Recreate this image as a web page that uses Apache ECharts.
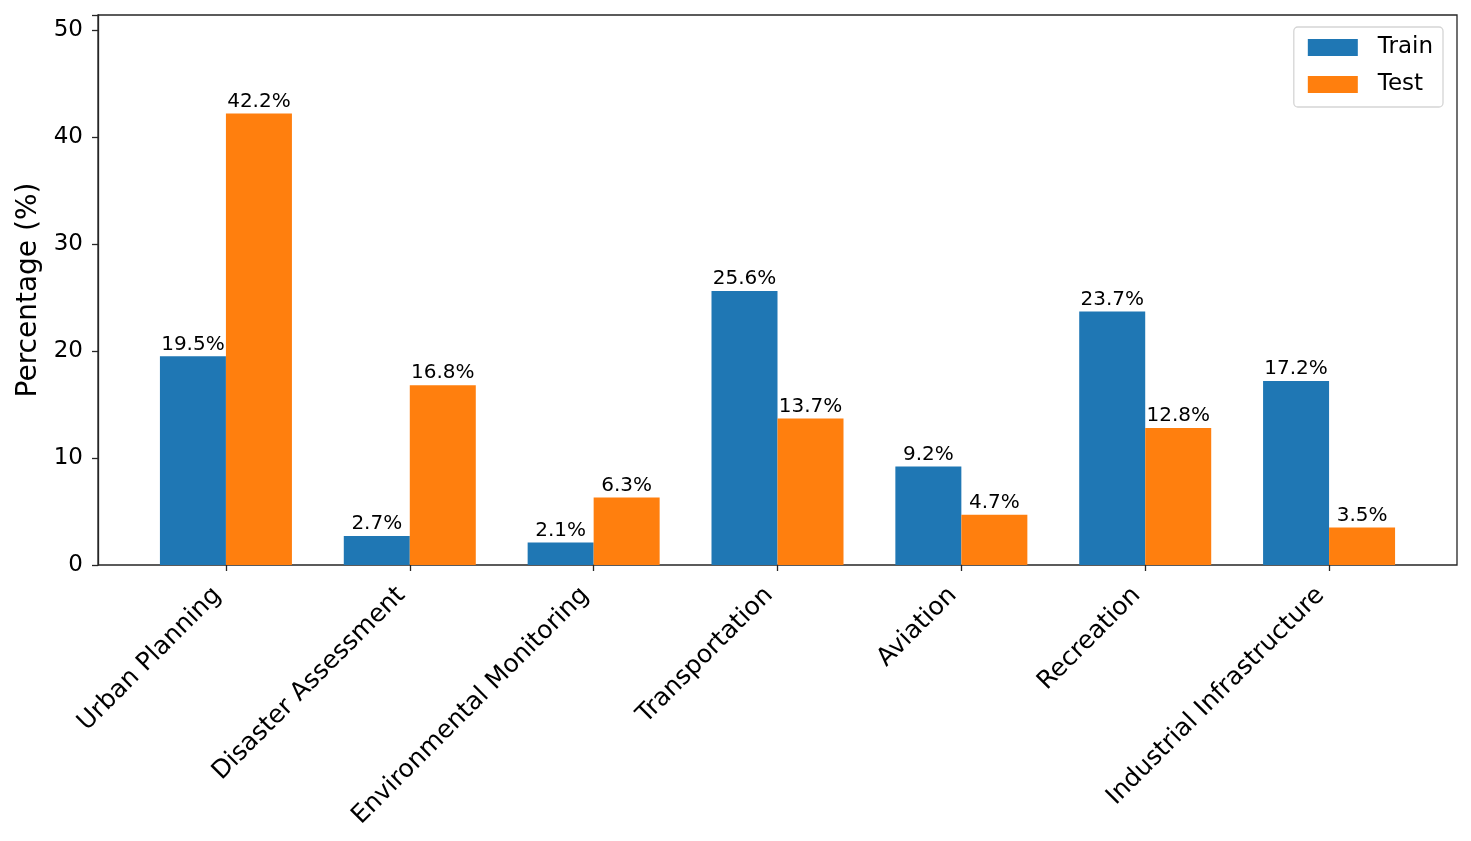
<!DOCTYPE html>
<html>
<head>
<meta charset="utf-8">
<script src="https://cdn.jsdelivr.net/npm/echarts@6/dist/echarts.min.js"></script>
<style>html,body{margin:0;padding:0;background:#fff;}#c{width:1471px;height:841px;}</style>
</head>
<body>
<div id="c"></div>
<script>
const categories = ["Urban Planning", "Disaster Assessment", "Environmental Monitoring", "Transportation", "Aviation", "Recreation", "Industrial Infrastructure"];
const trainValues = [19.5, 2.7, 2.1, 25.6, 9.2, 23.7, 17.2];
const testValues = [42.2, 16.8, 6.3, 13.7, 4.7, 12.8, 3.5];
const yTicks = [0, 10, 20, 30, 40, 50];

const FONT = 'DejaVu Sans';
const chart = echarts.init(document.getElementById('c'));
chart.setOption({
  animation: false,
  textStyle: { fontFamily: FONT },
  legend: {
    right: 28, top: 27, orient: 'vertical',
    itemWidth: 50, itemHeight: 17, itemGap: 14,
    padding: [9, 10, 11, 14],
    borderColor: '#d5d5d5', borderWidth: 1.3, borderRadius: 4,
    textStyle: { fontSize: 23, lineHeight: 23, color: '#000', fontFamily: FONT, padding: [0, 0, 0, 15] },
    data: [{ name: 'Train', icon: 'rect' }, { name: 'Test', icon: 'rect' }]
  },
  grid: [
    { left: 98, right: 14, top: 15, bottom: 276, show: true, borderColor: '#262626', borderWidth: 1.3, backgroundColor: 'transparent' },
    { left: 134, width: 1287, top: 15, bottom: 276 }
  ],
  xAxis: [
    { gridIndex: 0, type: 'value', min: 0, max: 1, show: false },
    { gridIndex: 1, type: 'category', data: categories,
      axisLine: { show: false },
      axisTick: { show: true, alignWithLabel: true, length: 6, lineStyle: { color: '#262626', width: 1.3 } },
      axisLabel: { rotate: 45, fontSize: 25, color: '#000', margin: 18, padding: [0, 12, 0, 0], fontFamily: FONT, interval: 0 },
      splitLine: { show: false } }
  ],
  yAxis: [
    { gridIndex: 0, type: 'value', min: 0, max: 51.4, interval: 10,
      name: 'Percentage (%)', nameLocation: 'middle', nameGap: 55,
      nameTextStyle: { fontSize: 28, color: '#000', fontFamily: FONT },
      axisLine: { show: true, lineStyle: { color: '#262626', width: 1.3 } },
      axisTick: { show: true, length: 6, lineStyle: { color: '#262626', width: 1.3 } },
      axisLabel: { fontSize: 23, color: '#000', margin: 15, fontFamily: FONT,
        formatter: v => yTicks.includes(v) ? String(v) : '' },
      splitLine: { show: false } },
    { gridIndex: 1, type: 'value', min: 0, max: 51.4, show: false }
  ],
  series: [
    { name: 'Train', type: 'bar', xAxisIndex: 1, yAxisIndex: 1, data: trainValues,
      barWidth: 66, barGap: '0%', itemStyle: { color: '#1f77b4' },
      label: { show: true, position: 'top', distance: 2, fontSize: 20, color: '#000', fontFamily: FONT, formatter: p => p.value + '%' } },
    { name: 'Test', type: 'bar', xAxisIndex: 1, yAxisIndex: 1, data: testValues,
      barWidth: 66, barGap: '0%', itemStyle: { color: '#ff7f0e' },
      label: { show: true, position: 'top', distance: 2, fontSize: 20, color: '#000', fontFamily: FONT, formatter: p => p.value + '%' } }
  ]
});
</script>
</body>
</html>
